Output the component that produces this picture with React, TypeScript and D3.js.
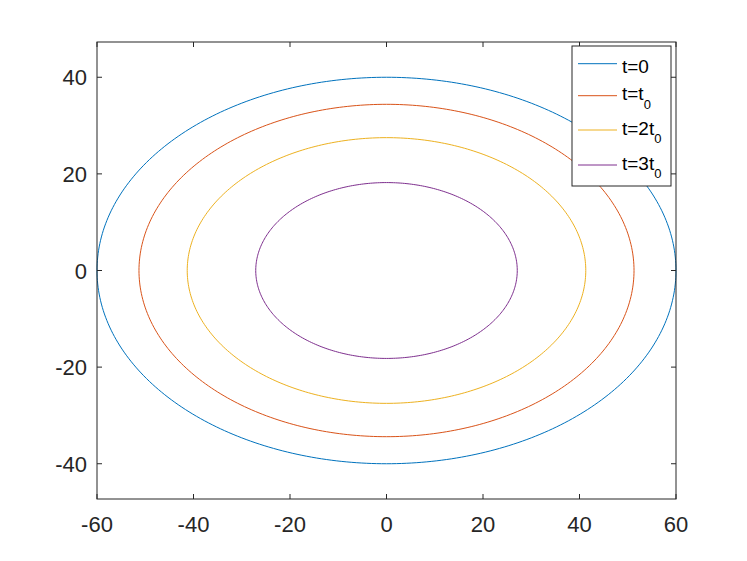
import React from "react";
import * as d3 from "d3";

const labels = ["t=0", "t=t0", "t=2t0", "t=3t0"];
const semiX = [60, 51.3, 41.3, 27.1];
const semiY = [40, 34.4, 27.5, 18.2];
const colors = ["#0072BD", "#D95319", "#EDB120", "#7E2F8E"];
const xTicks = [-60, -40, -20, 0, 20, 40, 60];
const yTicks = [-40, -20, 0, 20, 40];

const W = 747, H = 561;
const left = 97, right = 676, top = 42, bottom = 499;

export default function App() {
  const x = d3.scaleLinear().domain([-60, 60]).range([left, right]);
  const y = d3.scaleLinear().domain([-47.3, 47.3]).range([bottom, top]);
  const angles = d3.range(0, 361, 1).map((d) => (d * Math.PI) / 180);
  const line = d3.line<number>();
  const axisColor = "#262626";
  const font = "'Liberation Sans', Arial, Helvetica, sans-serif";
  const legend = { x: 572, y: 46, w: 99, h: 140 };
  const rowY = [63.7, 95.7, 130, 165];

  const renderLabel = (s: string) => {
    const m = s.match(/^(t=\d*t)0$/);
    if (m) {
      return (
        <>
          <tspan>{m[1]}</tspan>
          <tspan fontSize={13} dy={8.5}>0</tspan>
        </>
      );
    }
    return <tspan>{s}</tspan>;
  };

  return (
    <svg width={W} height={H} style={{ display: "block", position: "absolute", left: 0, top: 0 }}>
      <rect x={0} y={0} width={W} height={H} fill="#fff" />
      <rect x={left} y={top} width={right - left} height={bottom - top} fill="#fff" />
      {semiX.map((a, i) => {
        const pts = angles.map((t) => [x(a * Math.cos(t)), y(semiY[i] * Math.sin(t))] as [number, number]);
        return (
          <path key={i} d={line(pts as any) || ""} fill="none" stroke={colors[i]} strokeWidth={1} />
        );
      })}
      <rect x={left} y={top} width={right - left} height={bottom - top} fill="none" stroke={axisColor} strokeWidth={1} />
      {xTicks.map((t) => (
        <g key={"x" + t}>
          <line x1={x(t)} x2={x(t)} y1={bottom} y2={bottom - 5} stroke={axisColor} />
          <line x1={x(t)} x2={x(t)} y1={top} y2={top + 5} stroke={axisColor} />
          <text x={x(t)} y={bottom + 33} textAnchor="middle" fontSize={22} fontFamily={font} fill={axisColor}>
            {t}
          </text>
        </g>
      ))}
      {yTicks.map((t) => (
        <g key={"y" + t}>
          <line x1={left} x2={left + 5} y1={y(t)} y2={y(t)} stroke={axisColor} />
          <line x1={right} x2={right - 5} y1={y(t)} y2={y(t)} stroke={axisColor} />
          <text x={left - 10} y={y(t) + 8} textAnchor="end" fontSize={22} fontFamily={font} fill={axisColor}>
            {t}
          </text>
        </g>
      ))}
      <rect x={legend.x} y={legend.y} width={legend.w} height={legend.h} fill="#fff" stroke={axisColor} strokeWidth={1} />
      {labels.map((l, i) => (
        <g key={l}>
          <line x1={578} x2={617} y1={rowY[i]} y2={rowY[i]} stroke={colors[i]} strokeWidth={1} />
          <text x={622} y={rowY[i] + (i === 0 ? 9 : 4.5)} fontSize={19} fontFamily={font} fill="#000">
            {renderLabel(l)}
          </text>
        </g>
      ))}
    </svg>
  );
}
